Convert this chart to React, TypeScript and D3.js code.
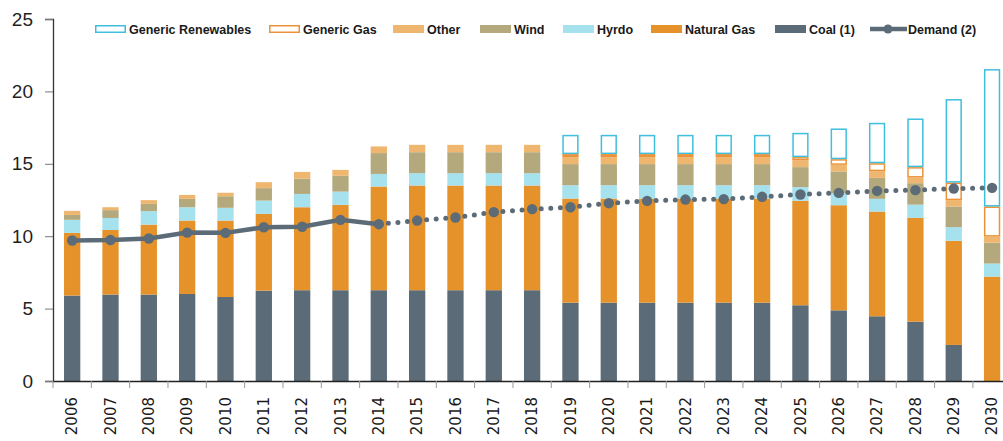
import { useEffect, useRef } from "react";
import * as d3 from "d3";

const years = [
  "2006", "2007", "2008", "2009", "2010", "2011", "2012", "2013", "2014", "2015", "2016", "2017", "2018",
  "2019", "2020", "2021", "2022", "2023", "2024", "2025", "2026", "2027", "2028", "2029", "2030",
];

const coal = [5.9, 5.97, 5.97, 6.01, 5.8, 6.24, 6.27, 6.27, 6.27, 6.27, 6.27, 6.27, 6.27, 5.41, 5.41, 5.41, 5.41, 5.41, 5.41, 5.23, 4.88, 4.47, 4.1, 2.49, 0];
const naturalGas = [4.33, 4.46, 4.83, 5.07, 5.28, 5.3, 5.73, 5.89, 7.16, 7.23, 7.23, 7.23, 7.23, 7.19, 7.19, 7.19, 7.19, 7.19, 7.19, 7.21, 7.26, 7.23, 7.16, 7.19, 7.21];
const hydro = [0.9, 0.83, 0.93, 0.92, 0.88, 0.92, 0.92, 0.92, 0.87, 0.85, 0.85, 0.85, 0.85, 0.92, 0.92, 0.92, 0.92, 0.92, 0.92, 0.95, 0.83, 0.88, 0.92, 0.94, 0.9];
const wind = [0.34, 0.54, 0.5, 0.58, 0.8, 0.86, 1.06, 1.09, 1.44, 1.45, 1.45, 1.45, 1.45, 1.46, 1.46, 1.46, 1.46, 1.46, 1.46, 1.38, 1.5, 1.45, 1.48, 1.43, 1.45];
const other = [0.28, 0.2, 0.26, 0.27, 0.24, 0.41, 0.46, 0.41, 0.46, 0.51, 0.51, 0.51, 0.51, 0.48, 0.48, 0.48, 0.48, 0.48, 0.48, 0.46, 0.46, 0.46, 0.39, 0.44, 0.41];
const genericGas = [0, 0, 0, 0, 0, 0, 0, 0, 0, 0, 0, 0, 0, 0.21, 0.21, 0.21, 0.21, 0.21, 0.21, 0.23, 0.39, 0.55, 0.72, 1.21, 2.08];
const genericRenewables = [0, 0, 0, 0, 0, 0, 0, 0, 0, 0, 0, 0, 0, 1.33, 1.33, 1.33, 1.33, 1.33, 1.33, 1.68, 2.12, 2.79, 3.36, 5.77, 9.49];
const demand = [9.7, 9.74, 9.84, 10.25, 10.23, 10.62, 10.65, 11.13, 10.83, 11.08, 11.29, 11.66, 11.87, 12.0, 12.28, 12.44, 12.53, 12.56, 12.72, 12.88, 12.99, 13.13, 13.18, 13.29, 13.34];
const lastActual = "2014";

const yTicks = [0, 5, 10, 15, 20, 25];

const series = [
  { name: "Coal (1)", values: coal, fill: "#5b6b77", stroke: "none" },
  { name: "Natural Gas", values: naturalGas, fill: "#e6922b", stroke: "none" },
  { name: "Hyrdo", values: hydro, fill: "#a6e1ee", stroke: "none" },
  { name: "Wind", values: wind, fill: "#b3a97d", stroke: "none" },
  { name: "Other", values: other, fill: "#efb66f", stroke: "none" },
  { name: "Generic Gas", values: genericGas, fill: "#ffffff", stroke: "#ec9238" },
  { name: "Generic Renewables", values: genericRenewables, fill: "#ffffff", stroke: "#40bfdc" },
];

const legendOrder = ["Generic Renewables", "Generic Gas", "Other", "Wind", "Hyrdo", "Natural Gas", "Coal (1)"];
const legendX = [95, 269, 393, 480, 563, 651, 775, 870];

export default function App() {
  const ref = useRef<SVGSVGElement | null>(null);

  useEffect(() => {
    if (!ref.current) return;
    const width = 1003;
    const height = 441;
    const margin = { top: 19, left: 53, bottom: 60 };
    const plotRight = margin.left + 38.33 * years.length;

    const svg = d3.select(ref.current);
    svg.selectAll("*").remove();

    const x = d3.scaleBand<string>().domain(years).range([margin.left, plotRight]).paddingInner(0.575).paddingOuter(0.2875);
    const y = d3.scaleLinear().domain([0, 25]).range([height - margin.bottom, margin.top]);

    // stacked bars
    const rows = years.map((yr, i) => {
      const r: Record<string, number | string> = { year: yr };
      series.forEach((s) => (r[s.name] = s.values[i]));
      return r;
    });
    const stack = d3.stack<Record<string, number | string>>().keys(series.map((s) => s.name)).value((d, k) => d[k] as number);
    const layers = stack(rows);

    layers.forEach((layer, li) => {
      const s = series[li];
      const outlined = s.stroke !== "none";
      svg
        .append("g")
        .selectAll("rect")
        .data(layer.filter((d) => d[1] - d[0] > 0))
        .join("rect")
        .attr("x", (d) => x(d.data.year as string)! + (outlined ? 0.75 : 0))
        .attr("width", x.bandwidth() - (outlined ? 1.5 : 0))
        .attr("y", (d) => y(d[1]) + (outlined ? 0.75 : 0))
        .attr("height", (d) => Math.max(0, y(d[0]) - y(d[1]) - (outlined ? 1.5 : 0)))
        .attr("fill", s.fill)
        .attr("stroke", s.stroke)
        .attr("stroke-width", outlined ? 1.5 : 0);
    });

    // axes
    const yAxis = svg.append("g").attr("transform", `translate(${margin.left},0)`).call(d3.axisLeft(y).tickValues(yTicks).tickSize(8).tickPadding(12));
    yAxis.select(".domain").attr("stroke", "#333").attr("stroke-width", 1.3);
    yAxis.selectAll(".tick line").attr("stroke", "#777");
    yAxis
      .selectAll("text")
      .attr("font-family", "Liberation Sans, Arial, sans-serif")
      .attr("font-size", 19)
      .attr("fill", "#1f1f1f");

    const xAxis = svg
      .append("g")
      .attr("transform", `translate(0,${height - margin.bottom})`)
      .call(d3.axisBottom(x).tickSize(0).tickSizeOuter(0));
    xAxis.select(".domain").attr("stroke", "#222").attr("stroke-width", 1.6);
    xAxis
      .selectAll("text")
      .attr("font-family", "DejaVu Sans, sans-serif")
      .attr("font-size", 15)
      .attr("fill", "#1a1a1a")
      .attr("text-anchor", "end")
      .attr("dy", "0.35em")
      .attr("transform", "translate(0,16) rotate(-90)")
      .attr("x", 0)
      .attr("y", 0);
    xAxis
      .selectAll("line.sep")
      .data(years)
      .join("line")
      .attr("class", "sep")
      .attr("x1", (d) => x(d)! - x.step() * 0.2875)
      .attr("x2", (d) => x(d)! - x.step() * 0.2875)
      .attr("y1", 0)
      .attr("y2", 7)
      .attr("stroke", "#999");

    // demand line
    const line = d3
      .line<number>()
      .x((_, i) => x(years[i])! + x.bandwidth() / 2)
      .y((d) => y(d));
    const split = years.indexOf(lastActual);
    const color = "#5b6b77";
    svg
      .append("path")
      .attr("d", line(demand.slice(0, split + 1)))
      .attr("fill", "none")
      .attr("stroke", color)
      .attr("stroke-width", 4.5);
    const future = demand.map((d, i) => ({ d, i })).slice(split);
    svg
      .append("path")
      .attr(
        "d",
        d3
          .line<{ d: number; i: number }>()
          .x((p) => x(years[p.i])! + x.bandwidth() / 2)
          .y((p) => y(p.d))(future)
      )
      .attr("fill", "none")
      .attr("stroke", color)
      .attr("stroke-width", 5)
      .attr("stroke-linecap", "round")
      .attr("stroke-dasharray", "0 9.6");
    svg
      .append("g")
      .selectAll("circle")
      .data(demand)
      .join("circle")
      .attr("cx", (_, i) => x(years[i])! + x.bandwidth() / 2)
      .attr("cy", (d) => y(d))
      .attr("r", 5.2)
      .attr("fill", color);

    // legend
    const legend = svg.append("g").attr("font-family", "Liberation Sans, Arial, sans-serif").attr("font-size", 12.5).attr("font-weight", "bold");
    legendOrder.forEach((name, i) => {
      const s = series.find((q) => q.name === name)!;
      const lx = legendX[i];
      const outlined = s.stroke !== "none";
      legend
        .append("rect")
        .attr("x", lx + (outlined ? 0.75 : 0))
        .attr("y", 25 + (outlined ? 0.75 : 0))
        .attr("width", 31 - (outlined ? 1.5 : 0))
        .attr("height", 8 - (outlined ? 1.5 : 0))
        .attr("fill", s.fill)
        .attr("stroke", s.stroke)
        .attr("stroke-width", outlined ? 1.5 : 0);
      legend.append("text").attr("x", lx + 34).attr("y", 33.5).attr("fill", "#1a1a1a").text(name);
    });
    const dx = legendX[7];
    legend.append("line").attr("x1", dx).attr("x2", dx + 37).attr("y1", 29).attr("y2", 29).attr("stroke", color).attr("stroke-width", 4.5);
    legend.append("circle").attr("cx", dx + 18).attr("cy", 29).attr("r", 4.5).attr("fill", color);
    legend.append("text").attr("x", dx + 38).attr("y", 33.5).attr("fill", "#1a1a1a").text("Demand (2)");

    svg.attr("width", width).attr("height", height);
  }, []);

  return <svg ref={ref} width={1003} height={441} style={{ position: "absolute", left: 0, top: 0, background: "#fff" }} />;
}
